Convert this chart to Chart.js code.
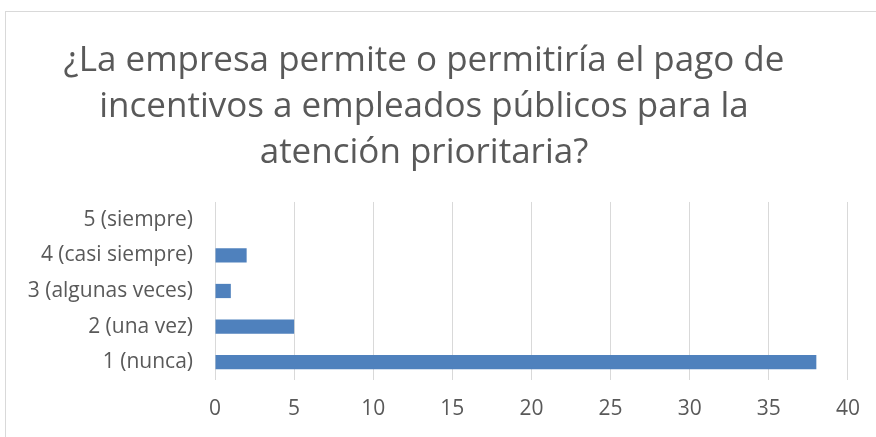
<!DOCTYPE html>
<html>
<head>
<meta charset="utf-8">
<script src="https://cdn.jsdelivr.net/npm/chart.js@4/dist/chart.umd.min.js"></script>
<style>
html,body{margin:0;padding:0;background:#fff;overflow:hidden;}
#wrap{position:relative;width:876px;height:437px;}
#frame{position:absolute;left:5px;top:11px;width:880px;height:440px;border:1px solid #d9d9d9;box-sizing:border-box;pointer-events:none;}
canvas{position:absolute;left:0;top:0;}
</style>
</head>
<body>
<div id="wrap">
<canvas id="c" width="876" height="437"></canvas>
<div id="frame"></div>
</div>
<script>
const titleLines = ["¿La empresa permite o permitiría el pago de", "incentivos a empleados públicos para la", "atención prioritaria?"];
const categories = ["5 (siempre)", "4 (casi siempre)", "3 (algunas veces)", "2 (una vez)", "1 (nunca)"];
const values = [0, 2, 1, 5, 38];
const xMin = 0, xMax = 40, xStep = 5;

const textColor = "#595959";
const fontFam = "'Open Sans', 'Liberation Sans', sans-serif";

new Chart(document.getElementById("c"), {
  type: "bar",
  data: {
    labels: categories,
    datasets: [{
      data: values,
      backgroundColor: "#4F81BD",
      borderWidth: 0,
      categoryPercentage: 0.4,
      barPercentage: 1.0
    }]
  },
  options: {
    indexAxis: "y",
    responsive: false,
    animation: false,
    layout: { padding: { left: 0, right: 28, top: 0, bottom: 0 } },
    plugins: {
      legend: { display: false },
      tooltip: { enabled: false },
      title: {
        display: true,
        text: titleLines,
        color: textColor,
        font: { family: fontFam, size: 35, weight: "normal", lineHeight: 1.314 },
        padding: { top: 38, bottom: 26 }
      }
    },
    scales: {
      x: {
        min: xMin, max: xMax,
        ticks: { stepSize: xStep, color: textColor, font: { family: fontFam, size: 21 }, padding: 16 },
        grid: { color: "#d9d9d9", lineWidth: 1, drawTicks: false },
        border: { display: false },
        afterFit: (s) => { s.height = 57; }
      },
      y: {
        ticks: { color: textColor, font: { family: fontFam, size: 21 }, padding: 22 },
        grid: { display: false, drawTicks: false },
        border: { display: false },
        afterFit: (s) => { s.width = 215; }
      }
    }
  }
});
</script>
</body>
</html>
